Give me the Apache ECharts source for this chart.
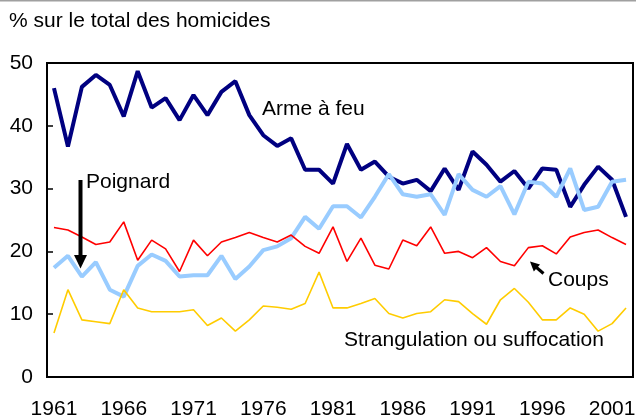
<!DOCTYPE html>
<html>
<head>
<meta charset="utf-8">
<script src="https://cdn.jsdelivr.net/npm/echarts@6/dist/echarts.min.js"></script>
<style>html,body{margin:0;padding:0;background:#fff}#c{width:636px;height:417px}</style>
</head>
<body>
<div id="c"></div>
<script>
var years = [];
for (var y = 1961; y <= 2002; y++) years.push(String(y));

var armeAFeu = [46.0,36.7,46.2,48.1,46.5,41.5,48.7,42.9,44.4,40.9,44.9,41.7,45.4,47.1,41.7,38.5,36.8,38.0,33.0,33.0,30.8,37.1,33.0,34.3,31.9,30.8,31.4,29.6,33.2,29.8,35.9,33.8,31.1,32.8,30.0,33.2,33.0,27.1,30.6,33.5,31.4,25.5];
var poignard = [17.4,19.3,16.0,18.3,13.9,12.8,17.7,19.5,18.5,16.0,16.2,16.2,19.3,15.6,17.6,20.2,20.8,22.1,25.5,23.6,27.2,27.2,25.4,28.7,32.3,29.1,28.7,29.1,25.8,32.3,29.8,28.7,30.4,25.9,31.1,30.8,28.7,33.2,26.6,27.1,31.1,31.4];
var coups = [23.8,23.4,22.3,21.1,21.5,24.7,18.6,21.8,20.4,16.8,21.8,19.3,21.5,22.2,23.0,22.2,21.5,22.6,20.8,19.7,23.9,18.4,22.1,17.8,17.2,21.8,20.9,23.9,19.7,20.0,19.0,20.6,18.4,17.7,20.6,20.9,19.6,22.3,23.0,23.4,22.2,21.1];
var strangulation = [7.0,13.9,9.1,8.8,8.5,13.9,11.0,10.4,10.4,10.4,10.7,8.2,9.4,7.3,9.1,11.3,11.1,10.8,11.7,16.7,11.0,11.0,11.7,12.5,10.1,9.4,10.1,10.4,12.3,12.0,10.1,8.4,12.3,14.1,11.9,9.1,9.1,11.0,10.0,7.3,8.5,11.0];
var yTicks = [0,10,20,30,40,50];

var FONT = '"Liberation Sans", Arial, sans-serif';
var chart = echarts.init(document.getElementById('c'), null, {renderer: 'canvas'});

function txt(x, y, s, align) {
  return {type: 'text', x: x, y: y, z: 100,
    style: {text: s, fill: '#000', font: '21px ' + FONT, textAlign: align || 'left', textVerticalAlign: 'middle'}};
}

chart.setOption({
  animation: false,
  backgroundColor: '#fff',
  grid: {left: 47, right: 3, top: 63, bottom: 40, show: true, borderColor: '#000', borderWidth: 2, backgroundColor: 'transparent', containLabel: false, outerBoundsMode: 'none'},
  xAxis: {
    type: 'category', data: years, boundaryGap: true,
    axisLine: {lineStyle: {color: '#000', width: 2}},
    axisTick: {inside: true, length: 5, interval: 0, lineStyle: {color: '#000', width: 1.5}},
    axisLabel: {interval: 4, color: '#000', fontFamily: FONT, fontSize: 21, margin: 22},
    splitLine: {show: false}
  },
  yAxis: {
    type: 'value', min: yTicks[0], max: yTicks[yTicks.length - 1], interval: 10,
    axisLine: {show: true, lineStyle: {color: '#000', width: 2}},
    axisTick: {show: true, inside: true, length: 6, lineStyle: {color: '#000', width: 1.5}},
    axisLabel: {color: '#000', fontFamily: FONT, fontSize: 21, margin: 14},
    splitLine: {show: false}
  },
  series: [
    {name: 'Arme à feu', type: 'line', data: armeAFeu, symbol: 'none', lineStyle: {color: '#000080', width: 4}, z: 3},
    {name: 'Poignard', type: 'line', data: poignard, symbol: 'none', lineStyle: {color: '#99CCFF', width: 4}, z: 4},
    {name: 'Coups', type: 'line', data: coups, symbol: 'none', lineStyle: {color: '#FF0000', width: 1.6}, z: 5},
    {name: 'Strangulation ou suffocation', type: 'line', data: strangulation, symbol: 'none', lineStyle: {color: '#FFCC00', width: 1.6}, z: 6}
  ],
  graphic: [
    {type: 'rect', shape: {x: 0, y: 0, width: 636, height: 1.5}, style: {fill: '#a0a0a0'}},
    txt(9, 21, '% sur le total des homicides'),
    txt(262, 109, 'Arme à feu'),
    txt(86, 182, 'Poignard'),
    txt(548, 280, 'Coups'),
    txt(344, 340, 'Strangulation ou suffocation'),
    {type: 'line', z: 100, shape: {x1: 80.5, y1: 180, x2: 80.5, y2: 256}, style: {stroke: '#000', lineWidth: 4}},
    {type: 'polygon', z: 100, shape: {points: [[74, 255], [87, 255], [80.5, 268.5]]}, style: {fill: '#000'}},
    {type: 'line', z: 100, shape: {x1: 536.5, y1: 267.5, x2: 543.5, y2: 273.5}, style: {stroke: '#000', lineWidth: 3}},
    {type: 'polygon', z: 100, shape: {points: [[530, 261.5], [533.8, 271.5], [540, 264.5]]}, style: {fill: '#000'}}
  ]
});
</script>
</body>
</html>
